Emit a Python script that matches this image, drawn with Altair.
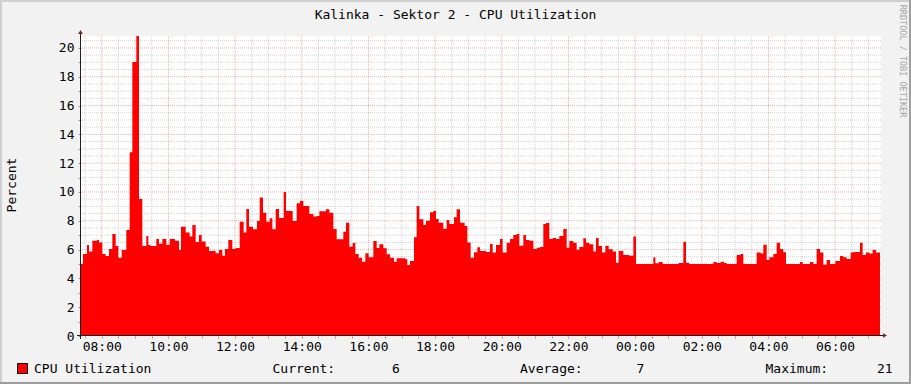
import altair as alt
import pandas as pd
from datetime import datetime, timedelta

# ---- data: start of each sample step (minutes after 07:22:40) and CPU %
step_start_min = [
    0, 3.6, 10.8, 14.4, 20.4, 28.8, 32.4, 38.4, 44.4, 50.4, 56.4, 62.4, 67.2, 73.2,
    81.6, 87.6, 92.4, 99.6, 104.4, 110.4, 117.6, 121.2, 124.8, 135.6, 140.4, 146.4,
    153.6, 159.6, 169.2, 176.4, 180, 188.4, 195.6, 200.4, 206.4, 212.4, 217.2, 224.4,
    230.4, 242.4, 248.4, 254.4, 259.2, 265.2, 272.4, 278.4, 285.6, 292.8, 297.6, 302.4,
    309.6, 316.8, 321.6, 327.6, 333.6, 339.6, 344.4, 350.4, 356.4, 364.8,
    369.0, 381.0, 388.2, 394.2, 400.2, 411.0, 418.2, 424.2, 429.0, 441.0, 447.0, 454.2,
    460.2, 472.2, 477.0, 483.0, 489.0, 493.8, 499.8, 505.8, 511.8, 517.8, 526.2, 532.2,
    537.0, 544.2, 550.2, 556.2, 563.4, 568.2, 583.8, 587.4, 592.2, 599.4, 604.2, 609.0,
    616.2, 621.0, 628.2, 634.2, 639.0, 643.8, 652.2, 658.2, 663.0, 671.4, 676.2, 682.2,
    690.6, 695.4, 701.4, 707.4, 713.4,
    718.2, 729.0, 736.2, 741.0, 747.0, 754.2, 759.0, 766.2, 772.2, 778.2, 784.2, 789.0,
    796.2, 801.0, 807.0, 814.2, 820.2, 826.2, 832.2, 837.0, 843.0, 849.0, 855.0, 861.0,
    868.2, 874.2, 879.0, 886.2, 892.2, 897.0, 904.2, 909.0, 915.0, 922.2, 927.0, 931.8,
    937.8, 943.8, 949.8, 957.0, 963.0, 967.8, 976.2, 987.0, 994.2, 999.0, 1030.2, 1033.8,
    1039.8, 1047.0, 1075.8, 1084.2, 1089.0,
    1095.0, 1138.2, 1144.2, 1151.4, 1157.4, 1162.2, 1180.2, 1187.4, 1192.2, 1216.2,
    1223.4, 1228.2, 1234.2, 1239.0, 1246.2, 1252.2, 1258.2, 1264.2, 1269.0, 1294.2,
    1299.0, 1312.2, 1318.2, 1324.2, 1330.2, 1336.2, 1342.2, 1348.2, 1357.8, 1366.2,
    1372.2, 1378.2, 1385.4, 1390.2, 1402.2, 1407.0, 1413.0, 1419.0, 1425.0, 1431.0,
]
cpu_values = [
    5.0, 5.69, 6.32, 5.86, 6.62, 6.67, 6.5, 5.69, 5.56, 6.04, 7.08, 6.25, 5.44, 5.97,
    7.36, 12.75, 19.03, 20.83, 9.51, 6.25, 6.94, 6.32, 6.25, 6.74, 6.41, 6.74,
    6.32, 6.74, 6.62, 5.97, 7.59, 7.18, 6.9, 7.71, 6.53, 7.01, 6.57, 6.2,
    5.9, 5.74, 5.97, 5.58, 6.04, 6.67, 6.04, 6.11, 7.94, 7.18, 8.82, 7.59,
    7.41, 7.99, 9.61, 8.56, 7.94, 8.17, 7.41, 8.82, 8.2, 10.0,
    8.68, 7.99, 9.21, 9.38, 9.03, 8.47, 8.29, 8.33, 8.66, 8.80, 8.56, 7.43,
    6.71, 7.24, 7.87, 6.20, 6.46, 5.69, 5.44, 5.16, 5.74, 5.46, 6.60, 6.11,
    6.37, 6.09, 5.67, 5.44, 5.16, 5.39, 5.33, 4.93, 5.21, 6.85, 9.03, 8.10,
    7.71, 8.01, 8.59, 8.68, 8.13, 7.87, 7.43, 8.06, 7.78, 8.24, 8.80, 7.87,
    7.64, 6.50, 5.44, 5.81, 6.16,
    5.90, 5.83, 6.39, 5.79, 6.32, 6.74, 5.79, 6.48, 6.74, 7.01, 7.08, 6.27,
    7.01, 6.67, 6.62, 6.04, 6.13, 6.18, 7.78, 7.85, 6.74, 6.81, 6.74, 6.94,
    7.43, 6.13, 6.60, 6.48, 5.99, 6.18, 6.78, 6.48, 6.37, 5.86, 6.81, 6.25,
    5.79, 6.27, 6.02, 5.86, 5.09, 5.90, 5.63, 5.58, 6.90, 5.00, 5.46, 5.05,
    5.14, 5.00, 5.07, 6.55, 5.09,
    5.00, 5.14, 5.07, 5.16, 5.07, 5.00, 5.63, 5.69, 5.00, 5.79,
    5.72, 6.34, 5.28, 5.46, 5.69, 6.48, 6.04, 5.81, 5.00, 5.14,
    5.00, 5.14, 5.00, 6.04, 5.79, 4.95, 5.28, 5.00, 5.21, 5.56,
    5.46, 5.35, 5.79, 5.83, 6.48, 5.63, 5.79, 5.72, 5.97, 5.79,
]
end_min = 1438.2

title_text = "Kalinka - Sektor 2 - CPU Utilization"
y_title = "Percent"
legend_name = "CPU Utilization"
legend_labels = ["Current:", "Average:", "Maximum:"]
legend_values = ["6", "7", "21"]
watermark = "RRDTOOL / TOBI OETIKER"

base = datetime(2024, 1, 1, 7, 22, 40)
fmt = "%Y-%m-%dT%H:%M:%S"
times = [(base + timedelta(minutes=m)).strftime(fmt) for m in step_start_min + [end_min]]
vals = cpu_values + [cpu_values[-1]]
df = pd.DataFrame({"t": times, "v": vals})


def dt(d):
    return alt.DateTime(year=d.year, month=d.month, date=d.day,
                        hours=d.hour, minutes=d.minute, seconds=d.second)


x_domain = [dt(base), dt(base + timedelta(minutes=1440))]
y_domain = [0, 20.83]

# grid positions
first_half = datetime(2024, 1, 1, 7, 30)
half_hours = [first_half + timedelta(minutes=30 * i) for i in range(48)]
major_x = [d for d in half_hours if d.minute == 0 and d.hour % 2 == 0]
minor_x = [d for d in half_hours if d not in major_x]
major_y = [2 * i for i in range(1, 11)]
minor_y = [0.5 * i for i in range(1, 42) if (0.5 * i) % 2 != 0]

xs = alt.Scale(domain=x_domain)
ys = alt.Scale(domain=y_domain, nice=False)

FONT = "DejaVu Sans Mono"
GRID = "#8f8f8f"
MGRID = "#de4f4f"

x_axis = alt.Axis(
    values=[dt(d) for d in half_hours],
    labelExpr="minutes(datum.value) == 0 && hours(datum.value) % 2 == 0 ? timeFormat(datum.value, '%H:%M') : ''",
    labelOverlap=False, grid=False, domain=False, ticks=True, tickSize=2,
    tickColor="#9a9a9a", labelFont=FONT, labelFontSize=13, labelColor="#000000",
    labelPadding=2, labelBaseline="top", title=None,
)
y_axis = alt.Axis(
    values=[0.5 * i for i in range(0, 42)],
    labelExpr="datum.value % 2 == 0 ? datum.label : ''",
    format="d", labelOverlap=False, grid=False, domain=False, ticks=True, tickSize=3,
    tickColor="#9a9a9a", labelFont=FONT, labelFontSize=13, labelColor="#000000",
    labelPadding=4, title=None,
)

minor_x_rules = alt.Chart(pd.DataFrame({"t": [d.strftime(fmt) for d in minor_x]})).mark_rule(
    color=GRID, strokeDash=[1, 1], opacity=0.4, strokeWidth=1
).encode(x=alt.X("t:T", scale=xs, axis=x_axis))
major_x_rules = alt.Chart(pd.DataFrame({"t": [d.strftime(fmt) for d in major_x]})).mark_rule(
    color=MGRID, strokeDash=[1, 1], opacity=0.45, strokeWidth=1
).encode(x=alt.X("t:T", scale=xs, axis=x_axis))
minor_y_rules = alt.Chart(pd.DataFrame({"v": minor_y})).mark_rule(
    color=GRID, strokeDash=[1, 1], opacity=0.4, strokeWidth=1
).encode(y=alt.Y("v:Q", scale=ys, axis=y_axis))
major_y_rules = alt.Chart(pd.DataFrame({"v": major_y})).mark_rule(
    color=MGRID, strokeDash=[1, 1], opacity=0.45, strokeWidth=1
).encode(y=alt.Y("v:Q", scale=ys, axis=y_axis))

area = alt.Chart(df).mark_area(interpolate="step-after", color="#ff0000", opacity=1).encode(
    x=alt.X("t:T", scale=xs, axis=x_axis),
    y=alt.Y("v:Q", scale=ys, axis=y_axis),
)

one = pd.DataFrame({"a": [0]})
AXIS = "#1f1f1f"
ARROW = "#7f1f1f"
y_line = alt.Chart(one).mark_rule(color=AXIS, strokeWidth=1).encode(
    x=alt.value(-0.5), y=alt.value(-3), y2=alt.value(303))
x_line = alt.Chart(one).mark_rule(color=AXIS, strokeWidth=1).encode(
    y=alt.value(299.5), x=alt.value(-4), x2=alt.value(803))
up_arrow = alt.Chart(one).mark_point(shape="triangle-up", filled=True, color=ARROW, size=22, opacity=1).encode(
    x=alt.value(-0.5), y=alt.value(-4))
right_arrow = alt.Chart(one).mark_point(shape="triangle-right", filled=True, color=ARROW, size=22, opacity=1).encode(
    x=alt.value(804), y=alt.value(299.5))


def rect(x, x2, y, y2, color):
    return alt.Chart(one).mark_rect(color=color).encode(
        x=alt.value(x), x2=alt.value(x2), y=alt.value(y), y2=alt.value(y2))


borders = [
    rect(-81, 830, -36, -34, "#cfcfcf"),
    rect(-81, -79, -36, 348, "#cfcfcf"),
    rect(-81, 830, 346, 348, "#9e9e9e"),
    rect(828, 830, -36, 348, "#9e9e9e"),
]


def text(s, x, y, align="left", size=13, angle=0, color="#000000", baseline="alphabetic"):
    return alt.Chart(pd.DataFrame({"s": [s]})).mark_text(
        font=FONT, fontSize=size, align=align, baseline=baseline, angle=angle, color=color
    ).encode(x=alt.value(x), y=alt.value(y), text="s:N")


texts = [
    text(title_text, 374.5, -17, align="center"),
    text(y_title, -69, 149, align="center", angle=270, baseline="middle"),
    text(legend_name, -47, 337),
    text(legend_labels[0], 191.5, 337),
    text(legend_values[0], 311, 337),
    text(legend_labels[1], 439, 337),
    text(legend_values[1], 555.5, 337),
    text(legend_labels[2], 684.5, 337),
    text(legend_values[2], 796, 337),
    text(watermark, 822, 25, align="center", size=8.5, angle=90, color="#a6a6a6", baseline="middle"),
]

legend_box = alt.Chart(one).mark_rect(fill="#ff0000", stroke="#000000", strokeWidth=1).encode(
    x=alt.value(-63.5), x2=alt.value(-53.5), y=alt.value(327.5), y2=alt.value(337.5))

chart = alt.layer(
    *borders, minor_x_rules, minor_y_rules, major_x_rules, major_y_rules, area,
    y_line, x_line, up_arrow, right_arrow, legend_box, *texts
).properties(
    width=800, height=300,
    autosize=alt.AutoSizeParams(type="none"),
    padding={"left": 81, "top": 36, "right": 30, "bottom": 48},
    background="#f2f2f2",
).configure_view(stroke=None, fill="#ffffff")

chart.save("out.html", embed_options={"renderer": "svg", "actions": False})
